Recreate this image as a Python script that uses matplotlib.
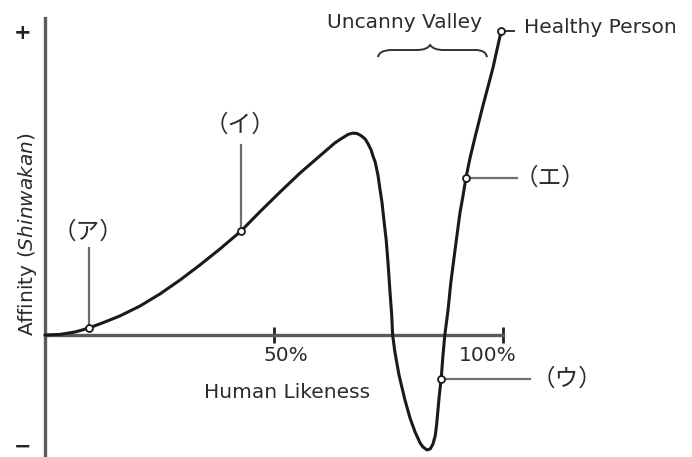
import matplotlib.pyplot as plt
from matplotlib.path import Path
from matplotlib.patches import PathPatch

# Curve: x = human likeness (%), y = affinity (100 = "+")
likeness = [0, 3.3, 6.6, 9.6, 13.1, 16.4, 20.7, 25.1, 29.5, 33.8, 38.2, 42.8,
            46.9, 51.3, 55.7, 60.0, 63.3, 64.4, 66.2, 67.2, 68.1, 69.0, 69.9,
            70.5, 71.2, 71.6, 72.1, 72.7, 73.1, 73.6, 74.0, 74.5, 74.9, 75.3,
            75.7, 75.9, 76.4, 77.3, 78.6, 79.7, 80.8, 81.9, 82.5, 83.4, 84.1,
            84.7, 85.2, 85.5, 85.8, 86.1, 86.5, 86.9, 87.3, 88.0, 88.6, 89.3,
            89.96, 90.6, 91.3, 91.9, 92.8, 93.9, 95.6, 97.8, 99.6]
affinity = [0, 0.2, 1.0, 2.3, 4.3, 6.3, 9.5, 13.5, 18.1, 23.0, 28.3, 34.2,
            40.5, 47.0, 53.3, 58.9, 63.2, 64.3, 66.0, 66.4, 66.3, 65.6, 64.5,
            63.0, 60.9, 58.9, 56.9, 52.6, 48.4, 43.4, 37.8, 31.25, 23.7, 14.8,
            6.6, 0, -5.6, -13.2, -21.4, -27.3, -31.9, -35.5, -36.8, -37.8,
            -37.5, -35.9, -33.2, -29.6, -24.7, -19.7, -14.5, -6.6, 0, 8.2,
            17.1, 25.3, 32.9, 40.1, 46.05, 51.6, 58.2, 65.1, 75.3, 87.8, 100.0]

# marked points on the curve and their labels
mark_x = [9.6, 42.8, 86.5, 91.9, 99.6]
mark_y = [2.3, 34.2, -14.5, 51.6, 100.0]
mark_labels = ["（ア）", "（イ）", "（ウ）", "（エ）"]

xtick_values = [50, 100]
xtick_labels = ["50%", "100%"]

TEXT = "#2b2b2b"
JP = ["Noto Sans CJK JP", "DejaVu Sans"]

fig = plt.figure(figsize=(6.92, 4.57), dpi=100)
ax = fig.add_axes([0, 0, 1, 1])
ax.set_xlim(-9.825, 141.27)
ax.set_ylim(-40.13, 110.2)

# axes drawn as spines crossing at the origin
for side in ["top", "right"]:
    ax.spines[side].set_visible(False)
ax.spines["left"].set_position(("data", 0))
ax.spines["bottom"].set_position(("data", 0))
ax.spines["left"].set_bounds(-40.13, 104.3)
ax.spines["bottom"].set_bounds(0, 100)
for side in ["left", "bottom"]:
    ax.spines[side].set_color("#5a5a5a")
    ax.spines[side].set_linewidth(2.4)
ax.set_yticks([])
ax.set_xticks(xtick_values)
ax.set_xticklabels([])
ax.tick_params(axis="x", direction="inout", length=12, width=2, color="#222222")

# the curve
ax.plot(likeness, affinity, color="#1a1a1a", lw=2.2, solid_joinstyle="round",
        solid_capstyle="round", zorder=3)

# leader lines
lead = dict(color="#6e6e6e", lw=1.6, zorder=2)
ax.plot([mark_x[0], mark_x[0]], [mark_y[0], 28.6], **lead)
ax.plot([mark_x[1], mark_x[1]], [mark_y[1], 62.5], **lead)
ax.plot([mark_x[2], 105.9], [mark_y[2], mark_y[2]], **lead)
ax.plot([mark_x[3], 103.0], [mark_y[3], mark_y[3]], **lead)
ax.plot([100.6, 102.4], [100.0, 100.0], color="#333333", lw=1.4, zorder=2)

ax.plot(mark_x, mark_y, "o", ms=5, mfc="white", mec="#1a1a1a", mew=1.3, zorder=4)

# katakana labels
ax.text(9.4, 33.9, mark_labels[0], family=JP, fontsize=17, color=TEXT, ha="center", va="center")
ax.text(42.6, 69.1, mark_labels[1], family=JP, fontsize=17, color=TEXT, ha="center", va="center")
ax.text(114.0, -14.5, mark_labels[2], family=JP, fontsize=17, color=TEXT, ha="center", va="center")
ax.text(110.3, 51.6, mark_labels[3], family=JP, fontsize=17, color=TEXT, ha="center", va="center")

# tick labels, axis titles
ax.text(52.6, -6.6, xtick_labels[0], fontsize=14.5, color=TEXT, ha="center", va="center")
ax.text(96.7, -6.6, xtick_labels[1], fontsize=14.5, color=TEXT, ha="center", va="center")
ax.text(52.8, -18.75, "Human Likeness", fontsize=14.5, color=TEXT, ha="center", va="center")
ax.text(-3.9, 33.2, r"Affinity ($\mathit{Shinwakan}$)", fontsize=14.5, color=TEXT,
        rotation=90, ha="center", va="center")
ax.text(-4.9, 99.3, "+", fontsize=15, fontweight="bold", color="#222222", ha="center", va="center")
ax.text(-4.9, -36.8, "−", fontsize=15, fontweight="bold", color="#222222", ha="center", va="center")

ax.text(78.4, 102.9, "Uncanny Valley", fontsize=14.5, color=TEXT, ha="center", va="center")
ax.text(104.6, 101.3, "Healthy Person", fontsize=14.5, color=TEXT, ha="left", va="center")

# brace under "Uncanny Valley"
brace = Path(
    [(72.7, 91.4), (72.9, 93.75), (75.8, 93.75), (81.2, 93.75),
     (83.4, 93.75), (84.1, 95.4), (84.8, 93.75), (87.0, 93.75),
     (94.0, 93.75), (96.3, 93.75), (96.5, 91.4)],
    [Path.MOVETO, Path.CURVE3, Path.CURVE3, Path.LINETO,
     Path.CURVE3, Path.CURVE3, Path.CURVE3, Path.CURVE3,
     Path.LINETO, Path.CURVE3, Path.CURVE3])
ax.add_patch(PathPatch(brace, fill=False, edgecolor="#333333", lw=1.4))

fig.savefig("out.png", dpi=100)
